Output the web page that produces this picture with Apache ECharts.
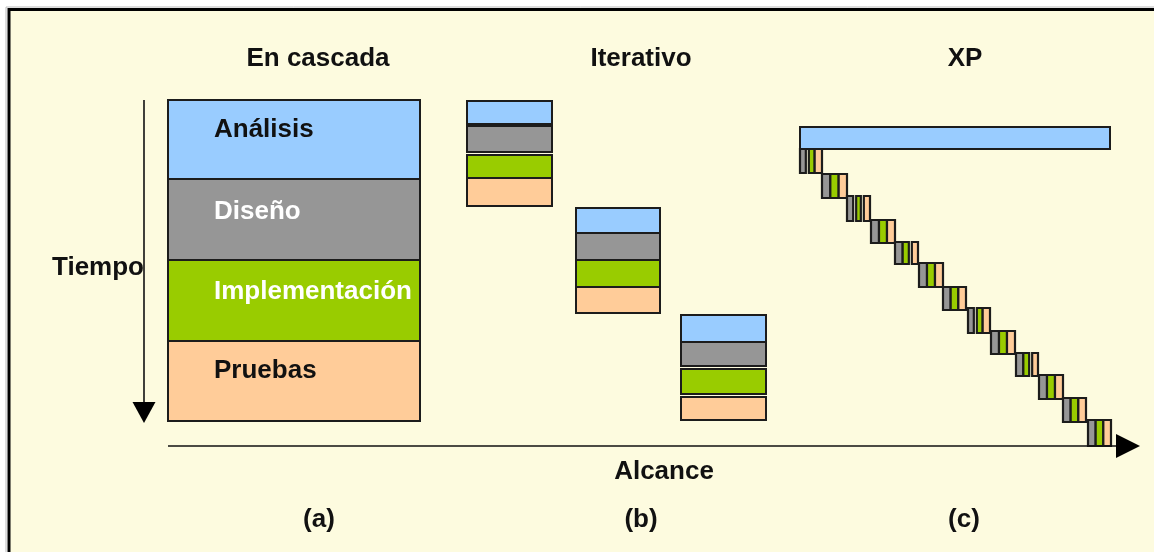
<!DOCTYPE html>
<html><head><meta charset="utf-8">
<script src="https://cdn.jsdelivr.net/npm/echarts@6/dist/echarts.min.js"></script>
<style>html,body{margin:0;padding:0;background:#fff}#c{width:1154px;height:552px}</style>
</head><body><div id="c"></div>
<script>
// ---- Data (scope = horizontal "Alcance", time = vertical "Tiempo") ----
const phaseNames = ['Análisis', 'Diseño', 'Implementación', 'Pruebas'];
const phaseColors = ['#99CCFF', '#969696', '#99CC00', '#FFCC99'];
const methodTitles = ['En cascada', 'Iterativo', 'XP'];
const panelLabels = ['(a)', '(b)', '(c)'];

// (a) Waterfall
const cascadeScope = [168, 420];
const cascadeTime = [[100, 179], [179, 260], [260, 341], [341, 421]];

// (b) Iterative
const iterScope = [[467, 552], [576, 660], [681, 766]];
const iterTime = [
  [[101, 124], [126, 152], [155, 178], [178, 206]],
  [[208, 233], [233, 260], [260, 287], [287, 313]],
  [[315, 342], [342, 366], [369, 394], [397, 420]]
];

// (c) XP
const xpPlanScope = [800, 1110];
const xpPlanTime = [127, 149];
const xpStepScopeStart = [800, 822, 847, 871, 895, 919, 943, 968, 991, 1016, 1039, 1063, 1088];
const xpStepScopeEnd   = [822, 847, 870, 895, 918, 943, 966, 990, 1015, 1038, 1063, 1086, 1111];
const xpStepTimeStart  = [149, 174, 196, 220, 242, 263, 287, 308, 331, 353, 375, 398, 420];
const xpStepTimeEnd    = [173, 198, 221, 243, 264, 287, 310, 333, 354, 376, 399, 422, 446];
// gaps after stripe k (1 = after design stripe, 2 = after implementation stripe)
const xpStepGaps = [[1], [], [1, 2], [], [2], [], [], [1], [], [2], [], [], []];

// ---- Build rectangles [x0, x1, y0, y1, colorIdx, strokeW] ----
const rects = [];
cascadeTime.forEach((t, i) => rects.push([cascadeScope[0], cascadeScope[1], t[0], t[1], i, 2]));
iterScope.forEach((s, b) => iterTime[b].forEach((t, i) => rects.push([s[0], s[1], t[0], t[1], i, 2])));
rects.push([xpPlanScope[0], xpPlanScope[1], xpPlanTime[0], xpPlanTime[1], 0, 2]);
xpStepScopeStart.forEach((x0, s) => {
  const x1 = xpStepScopeEnd[s], w = (x1 - x0) / 3;
  for (let k = 0; k < 3; k++) {
    let a = x0 + k * w, b = x0 + (k + 1) * w;
    if (xpStepGaps[s].includes(k + 1)) b -= 1.5;
    if (xpStepGaps[s].includes(k)) a += 1.5;
    rects.push([a, b, xpStepTimeStart[s], xpStepTimeEnd[s], k + 1, 2.2]);
  }
});

const W = 1154, H = 552;
const chart = echarts.init(document.getElementById('c'), null, {renderer: 'canvas'});
const font = '"Liberation Sans", Arial, sans-serif';
const txt = (text, x, y, opts) => Object.assign({
  type: 'text', z: 50, x: x, y: y + 2,
  style: Object.assign({text: text, font: 'bold 26px ' + font, fill: '#111', textAlign: 'center', textVerticalAlign: 'middle'}, opts || {})
});

chart.setOption({
  backgroundColor: '#ffffff',
  animation: false,
  grid: {left: 0, right: 0, top: 0, bottom: 0},
  xAxis: {type: 'value', min: 0, max: W, show: false},
  yAxis: {type: 'value', min: 0, max: H, inverse: true, show: false},
  graphic: [
    {type: 'rect', z: -5, shape: {x: 6, y: 7, width: 1300, height: 700}, style: {fill: 'none', stroke: '#bbbbbb', lineWidth: 1}},
    {type: 'rect', z: -4, shape: {x: 9, y: 9.5, width: 1300, height: 700}, style: {fill: '#FDFBDF', stroke: '#000', lineWidth: 3}},
    txt(methodTitles[0], 318, 57), txt(methodTitles[1], 641, 57), txt(methodTitles[2], 965, 57),
    txt(phaseNames[0], 214, 128, {textAlign: 'left'}),
    txt(phaseNames[1], 214, 210, {textAlign: 'left', fill: '#ffffff'}),
    txt(phaseNames[2], 214, 290, {textAlign: 'left', fill: '#ffffff'}),
    txt(phaseNames[3], 214, 369, {textAlign: 'left'}),
    txt('Tiempo', 52, 266, {textAlign: 'left'}),
    txt('Alcance', 664, 470),
    txt(panelLabels[0], 319, 518), txt(panelLabels[1], 641, 518), txt(panelLabels[2], 964, 518)
  ],
  series: [
    {
      type: 'custom', z: 2,
      data: rects,
      renderItem: function (params, api) {
        const p0 = api.coord([api.value(0), api.value(2)]);
        const p1 = api.coord([api.value(1), api.value(3)]);
        return {
          type: 'rect',
          shape: {x: p0[0], y: p0[1], width: p1[0] - p0[0], height: p1[1] - p0[1]},
          style: {fill: phaseColors[api.value(4)], stroke: '#1c1c1c', lineWidth: api.value(5)}
        };
      }
    },
    {
      // axes arrows: Tiempo (vertical) and Alcance (horizontal)
      type: 'custom', z: 3,
      data: [[144, 100, 144, 405, 0], [168, 446, 1120, 446, 1]],
      renderItem: function (params, api) {
        const a = api.coord([api.value(0), api.value(1)]);
        const b = api.coord([api.value(2), api.value(3)]);
        const vertical = api.value(4) === 0;
        const head = vertical
          ? [[b[0] - 11.5, b[1] - 3], [b[0] + 11.5, b[1] - 3], [b[0], b[1] + 18]]
          : [[b[0] - 4, b[1] - 12], [b[0] - 4, b[1] + 12], [b[0] + 20, b[1]]];
        return {
          type: 'group',
          children: [
            {type: 'line', shape: {x1: a[0], y1: a[1], x2: b[0], y2: b[1]}, style: {stroke: '#111', lineWidth: 1.6}},
            {type: 'polygon', shape: {points: head}, style: {fill: '#000'}}
          ]
        };
      }
    }
  ]
});
</script></body></html>
